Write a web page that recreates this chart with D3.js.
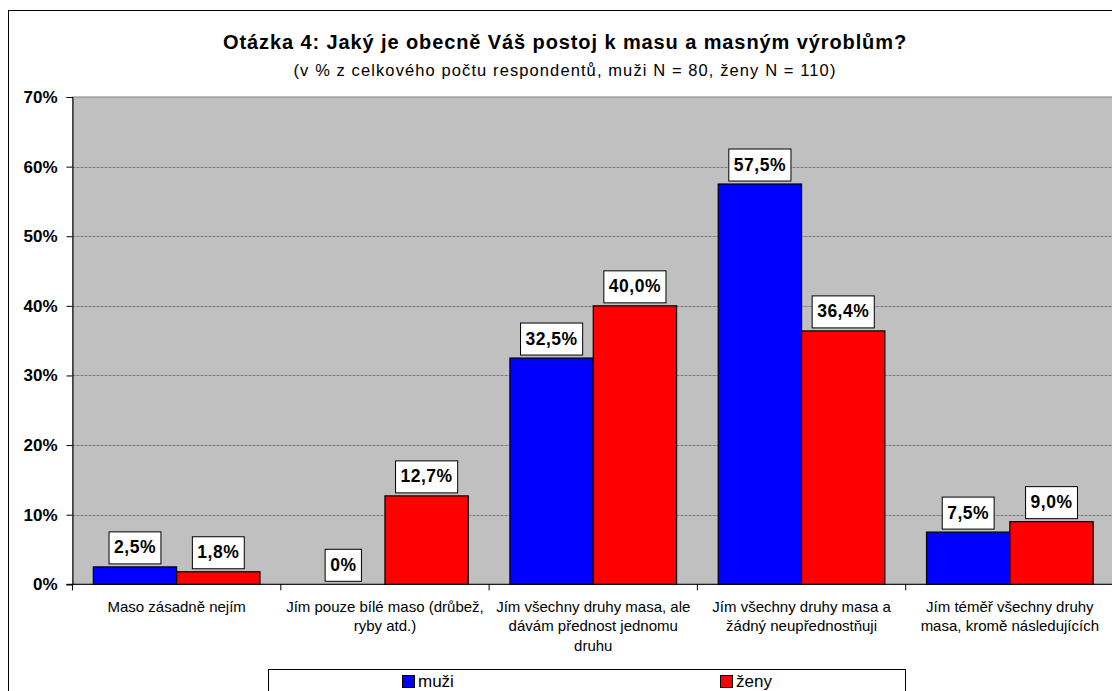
<!DOCTYPE html>
<html>
<head>
<meta charset="utf-8">
<script src="https://cdn.jsdelivr.net/npm/d3@7"></script>
<style>
  html, body { margin: 0; padding: 0; background: #fff; }
  svg { display: block; font-family: Arial, "Liberation Sans", sans-serif; }
</style>
</head>
<body>
<svg id="chart" width="1112" height="691"></svg>
<script>
// Survey categories (line breaks as printed under the axis)
const categories = [
  "Maso zásadně nejím",
  "Jím pouze bílé maso (drůbež,\nryby atd.)",
  "Jím všechny druhy masa, ale\ndávám přednost jednomu\ndruhu",
  "Jím všechny druhy masa a\nžádný neupřednostňuji",
  "Jím téměř všechny druhy\nmasa, kromě následujících"
];
const seriesNames = ["muži", "ženy"];
const muzi = [2.5, 0, 32.5, 57.5, 7.5];
const zeny = [1.8, 12.7, 40.0, 36.4, 9.0];
const seriesColors = ["#0000ff", "#ff0000"];
const yTicks = [0, 10, 20, 30, 40, 50, 60, 70];

const title = "Otázka 4: Jaký je obecně Váš postoj k masu a masným výroblům?";
const subtitle = "(v % z celkového počtu respondentů, muži N = 80, ženy N = 110)";

const svg = d3.select("#chart");

// Plot frame
const plot = { left: 72.5, right: 1114, top: 97, bottom: 584.3 };

// Outer chart border
svg.append("rect")
  .attr("x", 8.5).attr("y", 10.5)
  .attr("width", 1114).attr("height", 700)
  .attr("fill", "#fff").attr("stroke", "#000").attr("stroke-width", 1);

// Titles
const cx = 565;
svg.append("text").attr("x", cx).attr("y", 49)
  .attr("text-anchor", "middle").attr("font-weight", "bold").attr("font-size", 20)
  .attr("letter-spacing", 0.9)
  .text(title);
svg.append("text").attr("x", cx).attr("y", 76)
  .attr("text-anchor", "middle").attr("font-size", 16.5)
  .attr("letter-spacing", 1.1)
  .text(subtitle);

const x0 = d3.scaleBand().domain(d3.range(categories.length))
  .range([plot.left, plot.right]).paddingInner(0).paddingOuter(0);
const x1 = d3.scaleBand().domain(d3.range(seriesNames.length))
  .range([0, x0.bandwidth()]).paddingInner(0).paddingOuter(0.25);
const y = d3.scaleLinear().domain([0, 70]).range([plot.bottom, plot.top]);

// Plot background
svg.append("rect")
  .attr("x", plot.left).attr("y", plot.top)
  .attr("width", plot.right - plot.left).attr("height", plot.bottom - plot.top)
  .attr("fill", "#c0c0c0").attr("stroke", "#808080").attr("stroke-width", 1);

// Gridlines
svg.append("g").selectAll("line")
  .data(yTicks.filter(t => t > 0 && t < 70))
  .join("line")
  .attr("x1", plot.left).attr("x2", plot.right)
  .attr("y1", d => Math.round(y(d)) + 0.5).attr("y2", d => Math.round(y(d)) + 0.5)
  .attr("stroke", "#7a7a7a").attr("stroke-width", 1)
  .attr("stroke-dasharray", "3,1");

// Y axis
const yAxis = d3.axisLeft(y).tickValues(yTicks).tickSize(6).tickPadding(9)
  .tickFormat(d => d + "%");
const gy = svg.append("g").attr("transform", `translate(${plot.left},0)`).call(yAxis);
gy.select(".domain").attr("stroke", "#000");
gy.selectAll(".tick line").attr("stroke", "#000");
gy.selectAll(".tick text")
  .attr("font-family", "Arial, 'Liberation Sans', sans-serif")
  .attr("font-size", 17).attr("font-weight", "bold").attr("fill", "#000");

// X axis with tick marks at category boundaries
const gx = svg.append("g").attr("transform", `translate(0,${plot.bottom})`);
gx.append("line").attr("x1", plot.left - 6).attr("x2", plot.right)
  .attr("y1", 0).attr("y2", 0).attr("stroke", "#000");
gx.selectAll(".btick").data(d3.range(categories.length + 1)).join("line")
  .attr("class", "btick")
  .attr("x1", d => plot.left + d * x0.bandwidth()).attr("x2", d => plot.left + d * x0.bandwidth())
  .attr("y1", 0).attr("y2", 6).attr("stroke", "#000");

// Category labels
gx.selectAll(".cat").data(categories).join("text")
  .attr("class", "cat")
  .attr("text-anchor", "middle")
  .attr("font-size", 15)
  .attr("x", (d, i) => x0(i) + x0.bandwidth() / 2)
  .each(function (d) {
    const lines = d.split("\n");
    d3.select(this).selectAll("tspan").data(lines).join("tspan")
      .attr("x", d3.select(this).attr("x"))
      .attr("y", (l, j) => 27.5 + j * 19.5)
      .text(l => l);
  });

// Bars
const seriesData = [muzi, zeny];
const groups = svg.append("g").selectAll("g")
  .data(categories.map((c, i) => seriesData.map((s, k) => ({ i, k, v: s[i] }))))
  .join("g");

groups.selectAll("rect").data(d => d.filter(e => e.v > 0)).join("rect")
  .attr("x", d => x0(d.i) + x1(d.k))
  .attr("y", d => y(d.v))
  .attr("width", x1.bandwidth())
  .attr("height", d => y(0) - y(d.v))
  .attr("fill", d => seriesColors[d.k])
  .attr("stroke", "#000").attr("stroke-width", 1.2);

// Value labels in white boxes
const fmt = v => (v === 0 ? "0" : v.toFixed(1).replace(".", ",")) + "%";
const labels = groups.selectAll("g.lbl").data(d => d).join("g").attr("class", "lbl")
  .attr("transform", d => `translate(${x0(d.i) + x1(d.k) + x1.bandwidth() / 2},${y(d.v) - 3})`);
labels.each(function (d) {
  const g = d3.select(this);
  const t = g.append("text").attr("text-anchor", "middle")
    .attr("font-size", 17.5).attr("font-weight", "bold").attr("letter-spacing", 0.5)
    .attr("y", -10.5).text(fmt(d.v));
  const w = t.node().getComputedTextLength() + 10;
  g.insert("rect", "text")
    .attr("x", -w / 2).attr("y", -32).attr("width", w).attr("height", 32)
    .attr("fill", "#fff").attr("stroke", "#000").attr("stroke-width", 1);
});

// Legend
const lg = svg.append("g");
lg.append("rect").attr("x", 268.5).attr("y", 669.5).attr("width", 637).attr("height", 40)
  .attr("fill", "#fff").attr("stroke", "#000");
const legendX = [402, 720];
seriesNames.forEach((name, k) => {
  lg.append("rect").attr("x", legendX[k] + 0.5).attr("y", 675.5).attr("width", 12).attr("height", 12)
    .attr("fill", seriesColors[k]).attr("stroke", "#000");
  lg.append("text").attr("x", legendX[k] + 16).attr("y", 686.5)
    .attr("font-size", 17).text(name);
});
</script>
</body>
</html>
